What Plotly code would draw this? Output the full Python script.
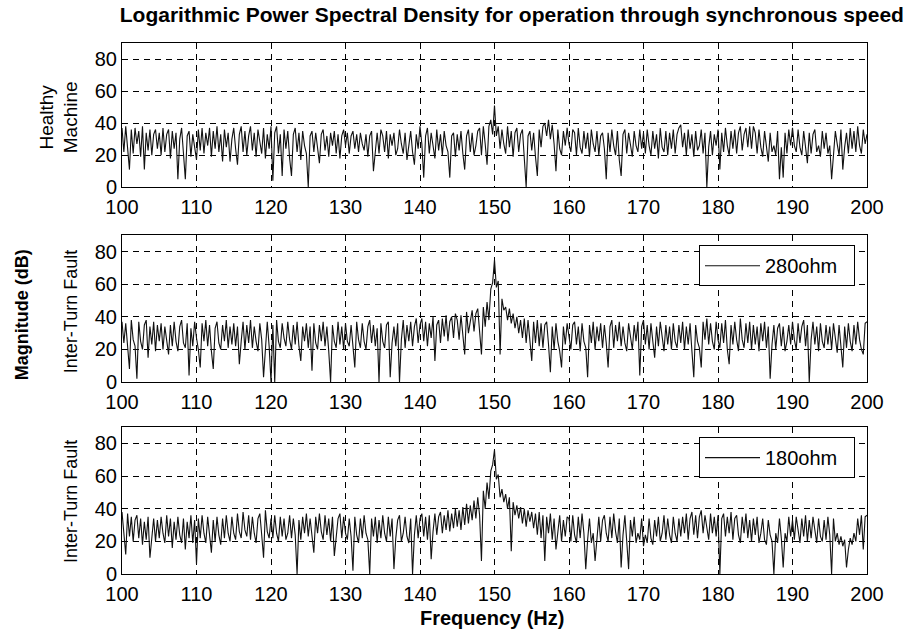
import plotly.graph_objects as go
from plotly.subplots import make_subplots

# frequency axis: 100 to 200 Hz in 0.25 Hz steps
freq = [100 + 0.25 * i for i in range(401)]

healthy = [
    37, 22, 38, 25, 11, 36, 21, 37, 27, 35, 19, 38, 11, 34, 23, 36, 20, 33, 36, 24,
    34, 20, 37, 22, 33, 36, 18, 35, 24, 34, 5, 30, 37, 21, 5, 32, 35, 19, 33, 25,
    17, 36, 23, 37, 21, 34, 26, 37, 19, 35, 24, 38, 22, 33, 16, 36, 25, 34, 16, 30,
    37, 24, 14, 33, 38, 22, 35, 20, 32, 38, 23, 34, 19, 36, 27, 21, 37, 18, 33, 24,
    38, 4, 34, 38, 21, 33, 7, 36, 24, 35, 18, 7, 33, 37, 22, 34, 17, 35, 26, 21,
    0, 32, 35, 22, 34, 25, 15, 33, 36, 23, 32, 19, 34, 26, 35, 21, 33, 18, 32, 36,
    26, 34, 21, 32, 35, 24, 33, 22, 34, 27, 23, 33, 19, 32, 35, 10, 25, 34, 21, 36,
    32, 22, 35, 18, 33, 26, 34, 20, 24, 36, 27, 21, 34, 17, 26, 35, 22, 14, 33, 24,
    38, 27, 6, 32, 37, 21, 34, 25, 18, 36, 23, 33, 20, 35, 26, 22, 6, 32, 34, 19,
    33, 23, 35, 21, 11, 32, 36, 22, 34, 20, 26, 35, 37, 20, 38, 27, 14, 38, 42, 33,
    51, 32, 38, 24, 36, 27, 21, 38, 25, 35, 19, 34, 37, 22, 33, 36, 20, 0, 32, 35,
    23, 34, 19, 7, 36, 25, 38, 40, 32, 42, 30, 39, 27, 10, 36, 24, 20, 35, 26, 37,
    27, 22, 36, 34, 20, 37, 25, 21, 35, 24, 34, 19, 36, 27, 22, 35, 20, 32, 34, 24,
    5, 34, 22, 36, 26, 20, 35, 17, 7, 33, 36, 21, 34, 25, 19, 35, 26, 22, 36, 24,
    34, 21, 36, 26, 20, 35, 24, 33, 18, 37, 25, 22, 35, 20, 34, 24, 36, 21, 33, 37,
    39, 25, 34, 20, 36, 24, 33, 19, 35, 23, 26, 36, 21, 34, 0, 25, 35, 20, 33, 26,
    36, 11, 34, 22, 37, 26, 20, 35, 24, 36, 21, 34, 38, 23, 33, 37, 25, 38, 24, 38,
    34, 21, 36, 25, 19, 35, 24, 16, 34, 22, 26, 20, 35, 5, 25, 6, 34, 21, 36, 26,
    37, 26, 22, 36, 25, 20, 35, 24, 15, 34, 21, 33, 36, 22, 26, 19, 35, 24, 34, 21,
    26, 5, 22, 35, 27, 20, 36, 11, 25, 34, 21, 37, 24, 35, 22, 38, 26, 21, 36, 27,
    33,
]

fault_280 = [
    37, 24, 36, 21, 8, 38, 26, 22, 2, 37, 25, 20, 35, 38, 15, 34, 23, 37, 19, 35,
    25, 36, 20, 34, 24, 17, 35, 22, 37, 25, 19, 34, 38, 24, 21, 36, 4, 33, 22, 37,
    27, 20, 9, 36, 25, 38, 22, 35, 19, 8, 33, 37, 24, 20, 35, 25, 38, 21, 34, 23,
    36, 22, 34, 11, 25, 37, 20, 35, 24, 38, 21, 34, 25, 19, 36, 26, 3, 24, 37, 22,
    0, 35, 0, 38, 25, 21, 36, 27, 22, 37, 26, 20, 35, 23, 37, 22, 13, 34, 25, 36,
    21, 34, 7, 36, 24, 20, 35, 25, 37, 22, 34, 19, 0, 35, 25, 21, 37, 23, 34, 20,
    36, 25, 22, 35, 24, 9, 37, 26, 21, 36, 25, 20, 34, 38, 24, 35, 22, 33, 0, 36,
    25, 21, 35, 37, 3, 24, 34, 22, 36, 0, 26, 38, 21, 35, 25, 37, 22, 34, 39, 24,
    35, 39, 25, 37, 22, 36, 27, 40, 13, 35, 38, 24, 39, 28, 41, 25, 37, 40, 27, 42,
    38, 26, 41, 29, 17, 43, 30, 37, 44, 31, 42, 45, 30, 17, 46, 34, 49, 38, 57, 61,
    75, 58, 62, 17, 51, 44, 46, 38, 45, 36, 42, 33, 40, 30, 38, 27, 39, 24, 38, 26,
    13, 37, 24, 38, 22, 36, 21, 35, 37, 23, 6, 34, 20, 36, 25, 19, 9, 34, 23, 36,
    26, 20, 35, 37, 23, 34, 19, 36, 25, 21, 3, 35, 24, 37, 20, 34, 25, 36, 21, 35,
    24, 9, 34, 38, 21, 35, 25, 37, 22, 34, 24, 19, 36, 26, 20, 35, 25, 37, 4, 34,
    38, 23, 35, 20, 36, 25, 15, 34, 22, 37, 26, 19, 35, 23, 34, 20, 36, 25, 21, 35,
    24, 37, 20, 34, 23, 36, 19, 3, 35, 25, 21, 9, 37, 26, 39, 23, 36, 25, 20, 37,
    26, 21, 36, 24, 38, 20, 11, 35, 23, 37, 26, 19, 39, 26, 21, 36, 24, 37, 20, 35,
    23, 34, 19, 36, 25, 37, 21, 34, 2, 23, 35, 20, 33, 36, 22, 34, 19, 25, 35, 23,
    37, 26, 20, 36, 24, 34, 38, 22, 35, 0, 26, 37, 23, 34, 19, 36, 25, 21, 35, 23,
    34, 20, 36, 25, 18, 35, 23, 9, 34, 21, 36, 25, 19, 35, 23, 37, 26, 20, 17, 36,
    37,
]

fault_180 = [
    38, 25, 12, 37, 23, 35, 20, 33, 36, 22, 34, 18, 32, 21, 35, 10, 24, 34, 20, 33,
    22, 35, 25, 19, 36, 23, 34, 16, 32, 21, 35, 24, 19, 34, 15, 32, 22, 36, 19, 33,
    6, 34, 22, 36, 25, 19, 35, 23, 13, 33, 20, 35, 24, 18, 34, 22, 36, 25, 20, 35,
    25, 21, 37, 26, 22, 38, 27, 23, 36, 21, 35, 25, 19, 34, 37, 24, 10, 39, 26, 22,
    34, 22, 36, 25, 20, 35, 23, 34, 21, 25, 36, 22, 34, 24, 0, 33, 21, 35, 25, 37,
    23, 34, 22, 13, 35, 25, 37, 26, 21, 36, 24, 34, 20, 35, 11, 24, 34, 37, 22, 35,
    25, 21, 34, 23, 2, 35, 24, 19, 34, 22, 36, 25, 21, 0, 34, 23, 35, 19, 33, 22,
    36, 25, 20, 35, 23, 34, 3, 22, 33, 36, 20, 25, 35, 23, 19, 34, 0, 24, 36, 22,
    34, 37, 23, 35, 21, 36, 9, 26, 37, 24, 35, 38, 25, 36, 27, 39, 26, 37, 28, 40,
    29, 39, 27, 41, 30, 43, 31, 42, 33, 45, 34, 47, 36, 8, 51, 40, 56, 46, 63, 67,
    76, 58, 61, 47, 52, 44, 49, 40, 47, 14, 44, 36, 42, 34, 41, 31, 40, 29, 39, 32,
    38, 28, 37, 24, 38, 22, 36, 8, 35, 25, 37, 21, 34, 15, 24, 36, 20, 33, 23, 35,
    34, 20, 36, 24, 19, 35, 22, 37, 25, 3, 21, 34, 19, 25, 8, 23, 35, 20, 33, 36,
    25, 20, 35, 22, 37, 26, 19, 34, 4, 24, 36, 20, 3, 33, 23, 35, 19, 25, 21, 34,
    17, 24, 19, 34, 22, 18, 33, 23, 35, 20, 25, 36, 21, 34, 24, 19, 35, 25, 20, 34,
    23, 35, 25, 37, 21, 34, 38, 24, 36, 22, 35, 39, 25, 36, 27, 21, 37, 25, 35, 23,
    36, 0, 34, 37, 23, 35, 25, 38, 21, 34, 36, 24, 19, 35, 25, 37, 22, 33, 20, 34,
    24, 35, 19, 25, 34, 21, 18, 33, 24, 20, 0, 25, 19, 34, 22, 4, 25, 20, 35, 23,
    33, 21, 35, 25, 19, 34, 23, 36, 20, 33, 22, 35, 25, 19, 34, 23, 20, 33, 21, 35,
    24, 0, 34, 20, 25, 18, 23, 17, 21, 4, 15, 22, 18, 25, 20, 34, 24, 36, 15, 35,
    36,
]

x_ticks = [100, 110, 120, 130, 140, 150, 160, 170, 180, 190, 200]
y_ticks = [0, 20, 40, 60, 80]

FONT = "Liberation Sans, Arial, sans-serif"
LINE = "#111111"

fig = make_subplots(rows=3, cols=1, shared_xaxes=False, vertical_spacing=0.08)

fig.add_trace(go.Scatter(x=freq, y=healthy, mode="lines", line=dict(color=LINE, width=1.1),
                         showlegend=False), row=1, col=1)
fig.add_trace(go.Scatter(x=freq, y=fault_280, mode="lines", line=dict(color=LINE, width=1.1),
                         name="280ohm\u00a0\u00a0", legend="legend"), row=2, col=1)
fig.add_trace(go.Scatter(x=freq, y=fault_180, mode="lines", line=dict(color=LINE, width=1.1),
                         name="180ohm\u00a0\u00a0", legend="legend2"), row=3, col=1)

H, T, B = 629, 42.7, 55
plot_h = H - T - B


def dom(top_px, bot_px):
    return [(H - B - bot_px) / plot_h, (H - B - top_px) / plot_h]


domains = [dom(42.7, 187), dom(235, 382), dom(427, 574)]

for i in range(3):
    ax = dict(range=[100, 200], tickvals=x_ticks, ticktext=[str(v) for v in x_ticks],
              showgrid=True, gridcolor="black", griddash="6px,5px", gridwidth=1,
              showline=True, linecolor="black", linewidth=1, mirror=True,
              ticks="", ticklabelstandoff=2, zeroline=False,
              tickfont=dict(family=FONT, size=20, color="black"))
    ay = dict(range=[0, 90], tickvals=y_ticks, ticktext=[str(v) for v in y_ticks],
              showgrid=True, gridcolor="black", griddash="6px,5px", gridwidth=1,
              showline=True, linecolor="black", linewidth=1, mirror=True,
              ticks="", zeroline=False, tickfont=dict(family=FONT, size=20, color="black"),
              domain=domains[i])
    fig.update_xaxes(**ax, row=i + 1, col=1)
    fig.update_yaxes(**ay, row=i + 1, col=1)

lx0 = 122.0
lw = 745.0


def px_x(px):
    return (px - lx0) / lw


def px_y(py):
    return (H - B - py) / plot_h


ann = [
    dict(text="Healthy<br>Machine", x=px_x(59), y=px_y(117), size=19, angle=-90),
    dict(text="Inter-Turn Fault", x=px_x(71), y=px_y(312), size=18, angle=-90),
    dict(text="Inter-Turn Fault", x=px_x(71), y=px_y(502), size=18, angle=-90),
    dict(text="<b>Magnitude (dB)</b>", x=px_x(22), y=px_y(315), size=18, angle=-90),
    dict(text="<b>Frequency (Hz)</b>", x=px_x(492), y=px_y(618), size=20, angle=0),
]
for a in ann:
    fig.add_annotation(xref="paper", yref="paper", x=a["x"], y=a["y"], text=a["text"],
                       textangle=a["angle"], showarrow=False, xanchor="center", yanchor="middle",
                       font=dict(family=FONT, size=a["size"], color="black"))

legend_style = dict(bgcolor="white", bordercolor="black", borderwidth=1,
                    font=dict(family=FONT, size=20, color="black"),
                    xanchor="right", yanchor="top", xref="paper", yref="paper",
                    tracegroupgap=0, itemwidth=55)

fig.update_layout(
    width=914, height=629,
    margin=dict(l=122, r=47, t=T, b=B),
    paper_bgcolor="white", plot_bgcolor="white",
    title=dict(text="<b>Logarithmic Power Spectral Density for operation through synchronous speed</b>",
               font=dict(family=FONT, size=21, color="black"),
               xref="container", yref="container", x=0.56, y=1 - 15 / 629,
               xanchor="center", yanchor="middle"),
    legend=dict(x=px_x(855), y=px_y(245), **legend_style),
    legend2=dict(x=px_x(855), y=px_y(437), **legend_style),
)

fig.write_html("out.html", config={"displayModeBar": False},
               post_script="document.body.style.margin='0px';")
